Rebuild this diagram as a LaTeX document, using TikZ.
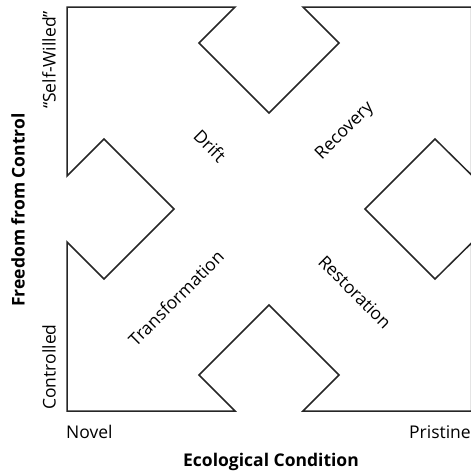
\documentclass[tikz,border=0pt]{standalone}
\usepackage{fontspec}
\setmainfont{Open Sans}
\begin{document}
\begin{tikzpicture}[x=1pt,y=-1pt,
  lbl/.style={font=\fontsize{17.5}{20}\selectfont, inner sep=0pt},
  axis/.style={font=\fontsize{17.5}{20}\selectfont\bfseries, inner sep=0pt},
  frame/.style={line width=1.5pt, line join=miter, draw=black!85}]
\useasboundingbox (0,0) rectangle (471,474);
% frame with four diamond notches
\draw[frame] (67,7) -- (235,7) -- (199,43) -- (269,113) -- (339,43) -- (303,7)
  -- (471.5,7) -- (471.5,175) -- (435,139) -- (365,209) -- (435,279) -- (471.5,243)
  -- (471.5,411) -- (303,411) -- (339,375) -- (269,305) -- (199,375) -- (235,411)
  -- (67,411) -- (67,242) -- (104,279) -- (174,209) -- (104,139) -- (67,176) -- cycle;
% region labels
\node[lbl, rotate=-45] (drift) at (210,146) {Drift};
\node[lbl, rotate=45] (recovery) at (345,131) {Recovery};
\node[lbl, rotate=45] (transformation) at (176,298) {Transformation};
\node[lbl, rotate=-45] (restoration) at (355,292) {Restoration};
% axis labels
\node[lbl, rotate=90] (selfwilled) at (49,60) {“Self-Willed”};
\node[lbl, rotate=90] (controlled) at (49,367) {Controlled};
\node[axis, rotate=90] (freedom) at (18,210) {Freedom from Control};
\node[lbl, anchor=west] (novel) at (66,432) {Novel};
\node[lbl, anchor=east] (pristine) at (471,432) {Pristine};
\node[axis] (ecological) at (271,462) {Ecological Condition};
\end{tikzpicture}
\end{document}
